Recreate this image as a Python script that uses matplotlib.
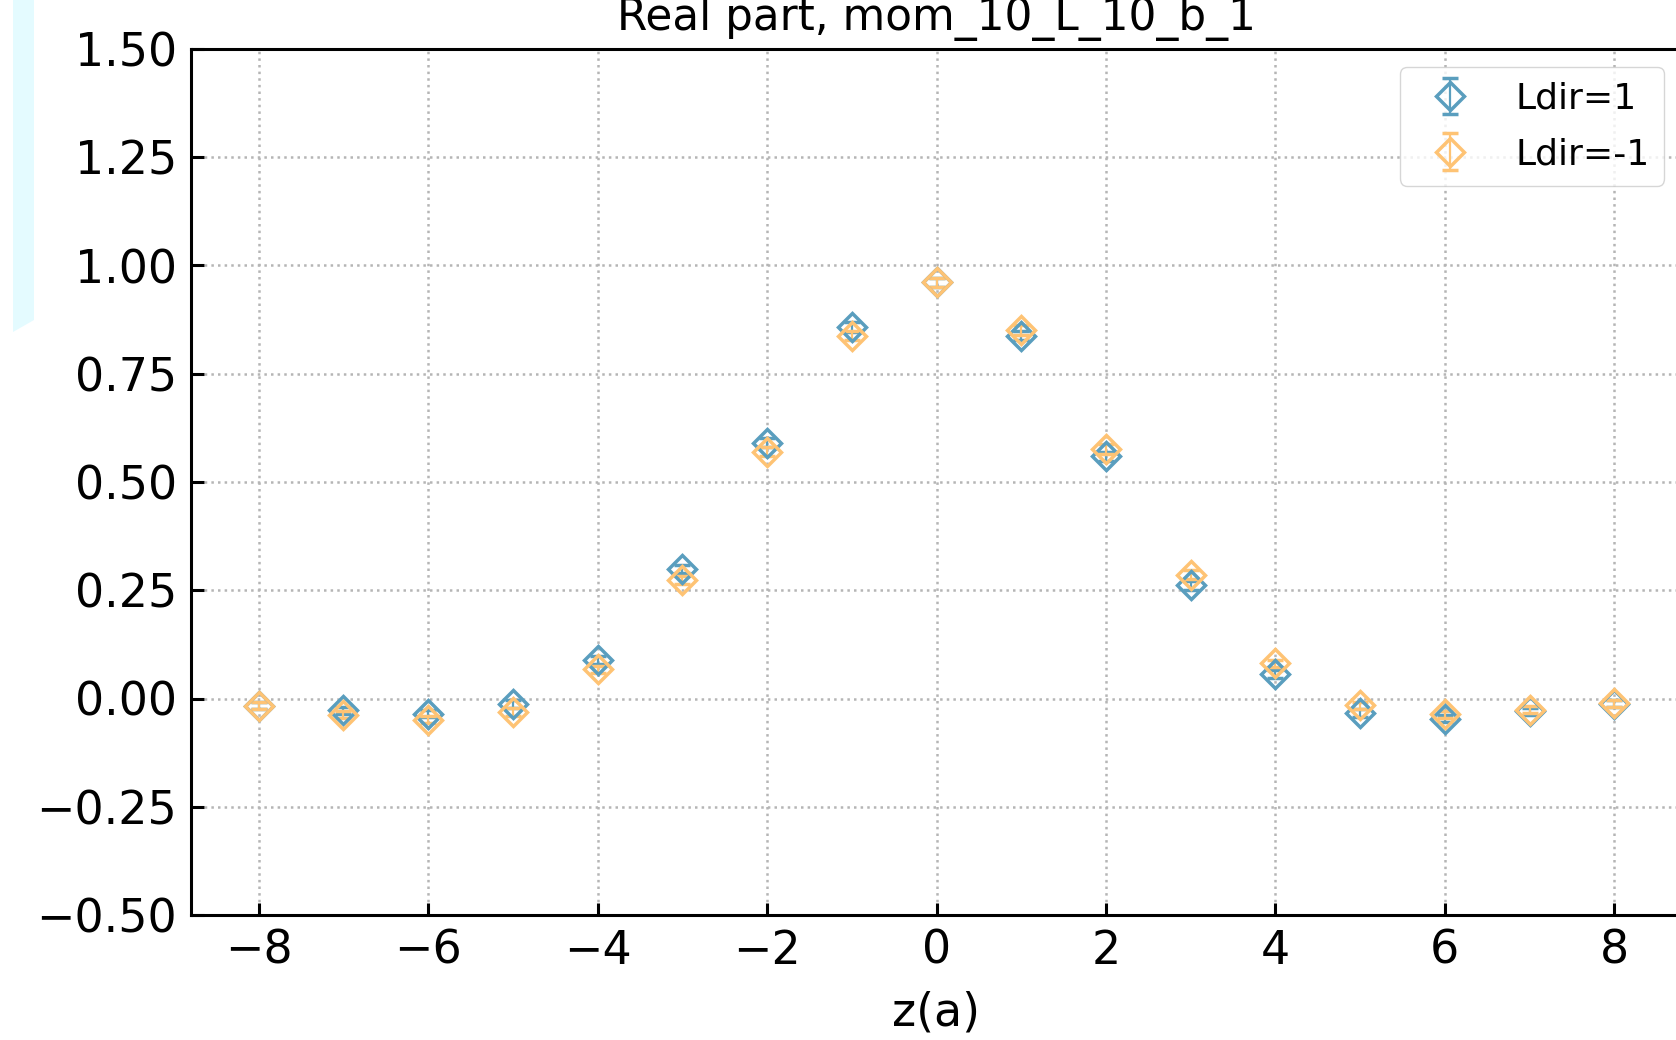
import matplotlib
matplotlib.use("Agg")
import matplotlib.pyplot as plt
from matplotlib.patches import Polygon
from matplotlib.ticker import FuncFormatter
import numpy as np

# Separation z in lattice units
z = [-8, -7, -6, -5, -4, -3, -2, -1, 0, 1, 2, 3, 4, 5, 6, 7, 8]

# Real part, Ldir = +1
re_fwd = [-0.017, -0.027, -0.035, -0.012, 0.088, 0.299, 0.591, 0.858, 0.961,
          0.838, 0.559, 0.261, 0.057, -0.034, -0.047, -0.029, -0.012]
err_fwd = [0.008, 0.008, 0.008, 0.009, 0.009, 0.010, 0.011, 0.011, 0.011,
           0.011, 0.011, 0.010, 0.009, 0.009, 0.008, 0.008, 0.008]

# Real part, Ldir = -1
re_bwd = [-0.017, -0.037, -0.049, -0.032, 0.067, 0.274, 0.570, 0.838, 0.961,
          0.851, 0.576, 0.286, 0.081, -0.016, -0.036, -0.026, -0.011]
err_bwd = [0.008, 0.008, 0.008, 0.009, 0.009, 0.010, 0.011, 0.011, 0.011,
           0.011, 0.011, 0.010, 0.009, 0.009, 0.008, 0.008, 0.008]

title = "Real part, mom_10_L_10_b_1"
colors = ["#5a9ebe", "#fec374"]

W, H = 1676, 1040
fig = plt.figure(figsize=(W / 100, H / 100), dpi=100)

# axes placed in pixel units, right spine just past the canvas edge
left, right, top, bottom = 191, 1682, 49, 915
ax = fig.add_axes([left / W, (H - bottom) / H, (right - left) / W, (bottom - top) / H])

style = dict(fmt="D", ms=14.5, mfc="none", mew=2.5, elinewidth=1.6,
             capsize=6, capthick=1.6)
ax.errorbar(z, re_fwd, yerr=err_fwd, color=colors[0], label="Ldir=1", **style)
ax.errorbar(z, re_bwd, yerr=err_bwd, color=colors[1], label="Ldir=-1", **style)

ax.set_xlim(-8.8, 8.8)
ax.set_ylim(-0.5, 1.5)
ax.set_xticks([-8, -6, -4, -2, 0, 2, 4, 6, 8])
ax.set_yticks([-0.5, -0.25, 0.0, 0.25, 0.5, 0.75, 1.0, 1.25, 1.5])
ax.yaxis.set_major_formatter(FuncFormatter(lambda v, p: f"{v:.2f}".replace("-", "\u2212")))
ax.tick_params(direction="in", length=9, width=2.2, labelsize=33, pad=10)
for s in ax.spines.values():
    s.set_linewidth(2.2)

ax.grid(True, linestyle=":", color="#b5b5b5", linewidth=1.8)
ax.set_axisbelow(True)

ax.set_xlabel("z(a)", fontsize=33, labelpad=12)
ax.set_title(title, fontsize=31.5, pad=14)
ax.legend(loc="upper right", fontsize=26, labelspacing=0.6)

# pale strip along the left border
strip = Polygon([(13 / W, 1), (34 / W, 1), (34 / W, 1 - 320 / H), (13 / W, 1 - 332 / H)],
                closed=True, transform=fig.transFigure, facecolor="#e4fbff",
                edgecolor="none")
fig.patches.append(strip)

fig.savefig("out.png", dpi=100)
